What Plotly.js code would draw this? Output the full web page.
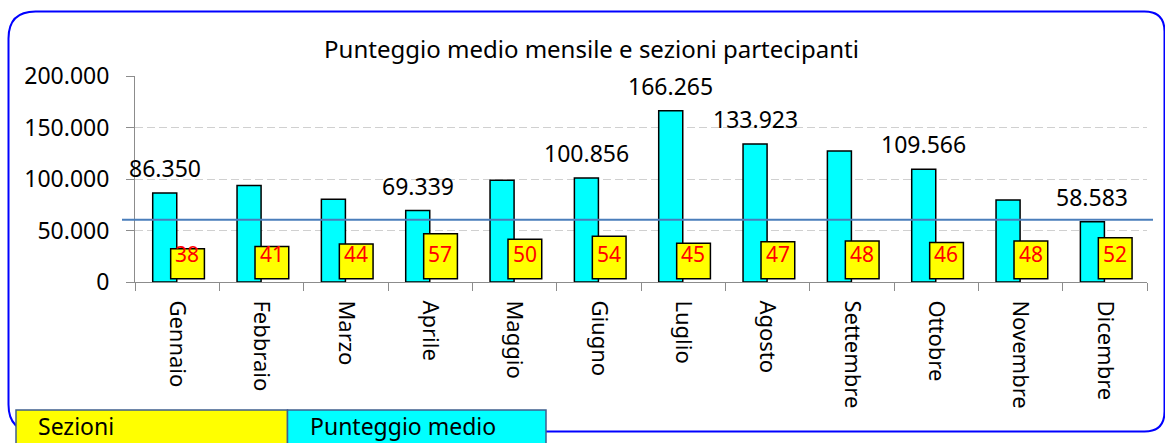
<!DOCTYPE html>
<html>
<head>
<meta charset="utf-8">
<script src="https://cdn.plot.ly/plotly-3.0.1.min.js"></script>
<style>
  html, body { margin: 0; padding: 0; background: #ffffff; }
  #chart { width: 1165px; height: 443px; }
</style>
</head>
<body>
<div id="chart"></div>
<script>
// ---- data ----
const months = ['Gennaio', 'Febbraio', 'Marzo', 'Aprile', 'Maggio', 'Giugno',
                'Luglio', 'Agosto', 'Settembre', 'Ottobre', 'Novembre', 'Dicembre'];
const punteggioMedio = [86350, 93800, 80300, 69339, 98700, 100856,
                        166265, 133923, 127200, 109566, 79600, 58583];
const sezioni = [38, 41, 44, 57, 50, 54, 45, 47, 48, 46, 48, 52];
const labelledMonths = ['Gennaio', 'Aprile', 'Giugno', 'Luglio', 'Agosto', 'Ottobre', 'Dicembre'];
const referenceLine = 60500;
const yTickVals = [0, 50000, 100000, 150000, 200000];
const chartTitle = 'Punteggio medio mensile e sezioni partecipanti';
const legendLabels = ['Sezioni', 'Punteggio medio'];

// ---- layout geometry (pixels) ----
const W = 1165, H = 443;
const M = { l: 135, r: 18, t: 76, b: 161 };
const PW = W - M.l - M.r, PH = H - M.t - M.b;
const px = v => (v - M.l) / PW;          // page x pixel -> paper x
const py = v => (H - M.b - v) / PH;      // page y pixel -> paper y
const FONT = 'Noto Sans, Open Sans, sans-serif';

function fmtIt(n) {
  return String(n).replace(/\B(?=(\d{3})+(?!\d))/g, '.');
}

// rounded frame path (paper coords)
function framePath(x0, y0, x1, y1, rl, rr) {
  const P = (x, y) => px(x) + ',' + py(y);
  return 'M' + P(x0, y0 + rl) +
         ' Q' + P(x0, y0) + ' ' + P(x0 + rl, y0) +
         ' L' + P(x1 - rr, y0) +
         ' Q' + P(x1, y0) + ' ' + P(x1, y0 + rr) +
         ' L' + P(x1, y1 - rr) +
         ' Q' + P(x1, y1) + ' ' + P(x1 - rr, y1) +
         ' L' + P(x0 + rl, y1) +
         ' Q' + P(x0, y1) + ' ' + P(x0, y1 - rl) + ' Z';
}

const traces = [
  {
    type: 'bar', name: 'Punteggio medio', x: months, y: punteggioMedio,
    yaxis: 'y', offset: -0.29, width: 0.285,
    marker: { color: '#00ffff', line: { color: '#000000', width: 1.5 } },
    hoverinfo: 'x+y'
  },
  {
    type: 'bar', name: 'Sezioni', x: months, y: sezioni,
    yaxis: 'y2', offset: -0.077, width: 0.4,
    marker: { color: '#ffff00', line: { color: '#000000', width: 1.5 } },
    hoverinfo: 'x+y'
  }
];

const annotations = [];
months.forEach((m, i) => {
  if (labelledMonths.includes(m)) {
    annotations.push({
      x: m, y: punteggioMedio[i], xref: 'x', yref: 'y',
      text: fmtIt(punteggioMedio[i]), showarrow: false,
      xshift: -12.5, yshift: 25, yanchor: 'middle', xanchor: 'center',
      font: { family: FONT, size: 23, color: '#000000' }
    });
  }
  annotations.push({
    x: m, y: py(253.5), xref: 'x', yref: 'paper',
    text: String(sezioni[i]), showarrow: false,
    xshift: 10.3, yanchor: 'middle', xanchor: 'center',
    font: { family: FONT, size: 21, color: '#ff0000' }
  });
});

// legend boxes text
annotations.push({
  x: px(36), y: py(426), xref: 'paper', yref: 'paper', xanchor: 'left', yanchor: 'middle',
  text: legendLabels[0], showarrow: false, font: { family: FONT, size: 23, color: '#000000' }
});
annotations.push({
  x: px(308), y: py(426), xref: 'paper', yref: 'paper', xanchor: 'left', yanchor: 'middle',
  text: legendLabels[1], showarrow: false, font: { family: FONT, size: 23, color: '#000000' }
});

const shapes = [
  { type: 'path', xref: 'paper', yref: 'paper', path: framePath(8.5, 11.5, 1164.5, 431.5, 27, 20),
    line: { color: '#0000ff', width: 2 }, fillcolor: 'rgba(0,0,0,0)', layer: 'below' },
  { type: 'line', xref: 'paper', yref: 'y', x0: px(122), x1: px(1153), y0: referenceLine, y1: referenceLine,
    line: { color: '#4a7ebb', width: 2 } },
  { type: 'rect', xref: 'paper', yref: 'paper', x0: px(16), x1: px(287.5), y0: py(410), y1: py(460),
    fillcolor: '#ffff00', line: { color: '#3f5f8f', width: 1.5 } },
  { type: 'rect', xref: 'paper', yref: 'paper', x0: px(287.5), x1: px(546), y0: py(410), y1: py(460),
    fillcolor: '#00ffff', line: { color: '#3f5f8f', width: 1.5 } }
];

const layout = {
  width: W, height: H,
  margin: M,
  paper_bgcolor: '#ffffff', plot_bgcolor: '#ffffff',
  separators: ',.',
  showlegend: false,
  barmode: 'overlay',
  font: { family: FONT, color: '#000000' },
  title: {
    text: chartTitle, xref: 'container', yref: 'container',
    x: 591.5 / W, y: 1 - 50 / H, xanchor: 'center', yanchor: 'middle',
    font: { family: FONT, size: 24, color: '#000000' }
  },
  xaxis: {
    type: 'category', categoryorder: 'array', categoryarray: months,
    range: [-0.5, months.length - 0.5],
    showline: true, linecolor: '#8c8c8c', linewidth: 1,
    ticks: 'outside', tickson: 'boundaries', ticklen: 8, tickcolor: '#8c8c8c', tickwidth: 1,
    tickangle: 90, ticklabelstandoff: 13,
    tickfont: { family: FONT, size: 22, color: '#000000' },
    showgrid: false, zeroline: false
  },
  yaxis: {
    range: [0, 200000], tickvals: yTickVals, tickformat: ',d',
    showline: true, linecolor: '#8c8c8c', linewidth: 1,
    ticks: 'outside', ticklen: 8, tickcolor: '#8c8c8c', tickwidth: 1,
    ticklabelstandoff: 12,
    tickfont: { family: FONT, size: 23, color: '#000000' },
    showgrid: true, gridcolor: '#d0d0d0', gridwidth: 1, griddash: '8px,4px',
    zeroline: false
  },
  yaxis2: {
    overlaying: 'y', side: 'right', range: [-4, 256.8], visible: false,
    showgrid: false, zeroline: false
  },
  shapes: shapes,
  annotations: annotations
};

Plotly.newPlot('chart', traces, layout, { displayModeBar: false, staticPlot: true });
</script>
</body>
</html>
